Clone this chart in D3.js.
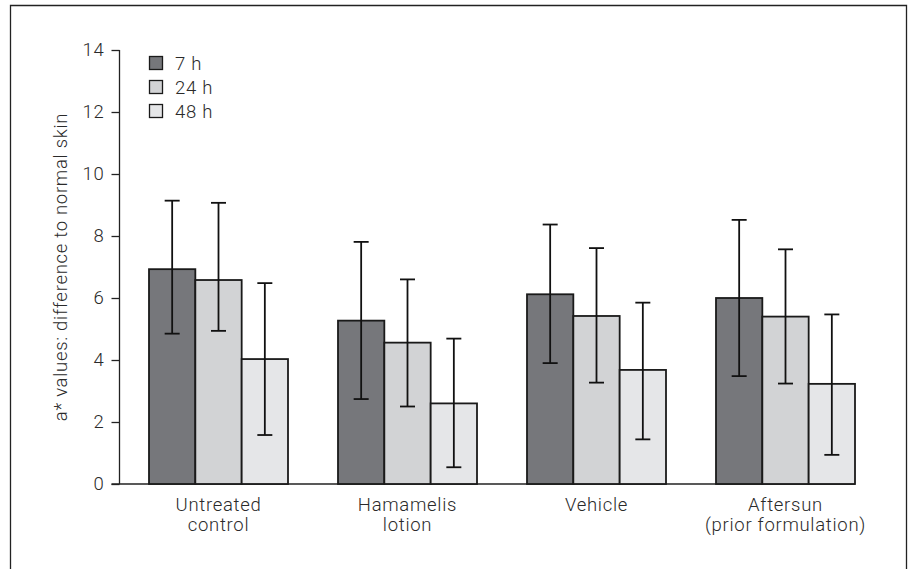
<!DOCTYPE html>
<html>
<head>
<meta charset="utf-8">
<script src="https://cdn.jsdelivr.net/npm/d3@7"></script>
<style>
  body { margin: 0; background: #fff; }
  svg { display: block; }
  text { font-weight: 300; letter-spacing: 0.7px; }
</style>
</head>
<body>
<div id="chart"></div>
<script>
// treatment groups along x, three time points per group
const groups = [["Untreated", "control"], ["Hamamelis", "lotion"], ["Vehicle"], ["Aftersun", "(prior formulation)"]];
const times = ["7 h", "24 h", "48 h"];
const colors = ["#76777b", "#d2d3d5", "#e5e6e8"];

// mean a* per group, one array per time point
const mean7 = [6.93, 5.27, 6.12, 6.0];
const mean24 = [6.58, 4.56, 5.42, 5.4];
const mean48 = [4.03, 2.6, 3.68, 3.23];
// error bar ends
const hi7 = [9.14, 7.81, 8.37, 8.52];
const lo7 = [4.85, 2.74, 3.9, 3.48];
const hi24 = [9.07, 6.6, 7.61, 7.57];
const lo24 = [4.94, 2.5, 3.27, 3.24];
const hi48 = [6.48, 4.69, 5.85, 5.47];
const lo48 = [1.58, 0.54, 1.44, 0.94];
const yTicks = [0, 2, 4, 6, 8, 10, 12, 14];

const means = [mean7, mean24, mean48];
const his = [hi7, hi24, hi48];
const los = [lo7, lo24, lo48];

const width = 912, height = 569;
const font = "Roboto, 'Liberation Sans', Arial, sans-serif";
const textColor = "#2a2a2a";
const fs = 18.5;

const svg = d3.select("#chart").append("svg")
    .attr("width", width)
    .attr("height", height)
    .attr("font-family", font);

// outer frame (no bottom edge visible)
svg.append("path")
    .attr("d", "M10.5,575V5.5H906.5V575")
    .attr("fill", "none")
    .attr("stroke", "#222")
    .attr("stroke-width", 1.3);

const axisX = 119.5;
const y = d3.scaleLinear().domain([0, 14]).range([484, 50]);
const x = d3.scaleBand()
    .domain(d3.range(groups.length))
    .range([124, 880])
    .paddingInner(50 / 189)
    .paddingOuter(25 / 189);
const xs = d3.scaleBand().domain(d3.range(times.length)).range([0, x.bandwidth()]);

// y axis
const yAxis = svg.append("g")
    .attr("transform", `translate(${axisX},0)`)
    .call(d3.axisLeft(y).tickValues(yTicks).tickSize(8).tickPadding(7));
yAxis.select(".domain").attr("d", `M0,${y(14)}V${y(0)}`).attr("stroke", "#222").attr("stroke-width", 1.3);
yAxis.selectAll(".tick line").attr("stroke", "#222").attr("stroke-width", 1.3);
yAxis.selectAll(".tick text")
    .attr("font-size", fs)
    .attr("font-family", font)
    .attr("fill", textColor);

svg.append("text")
    .attr("transform", `translate(67,${(y(14) + y(0)) / 2}) rotate(-90)`)
    .attr("text-anchor", "middle")
    .attr("font-size", fs)
    .attr("letter-spacing", "1px")
    .attr("fill", textColor)
    .text("a* values: difference to normal skin");

// x axis line
svg.append("line")
    .attr("x1", axisX - 8).attr("x2", x(groups.length - 1) + x.bandwidth())
    .attr("y1", y(0)).attr("y2", y(0))
    .attr("stroke", "#222")
    .attr("stroke-width", 1.3);

// bars
const g = svg.append("g").selectAll("g")
    .data(groups.map((_, i) => i))
    .join("g")
    .attr("transform", i => `translate(${x(i)},0)`);

g.selectAll("rect")
    .data(i => times.map((_, t) => ({ t, v: means[t][i] })))
    .join("rect")
    .attr("x", d => xs(d.t))
    .attr("y", d => y(d.v))
    .attr("width", xs.bandwidth())
    .attr("height", d => y(0) - y(d.v))
    .attr("fill", d => colors[d.t])
    .attr("stroke", "#1a1a1a")
    .attr("stroke-width", 1.8);

// error bars
const cap = 7.5;
const eb = g.selectAll("g.err")
    .data(i => times.map((_, t) => ({ t, hi: his[t][i], lo: los[t][i] })))
    .join("g")
    .attr("class", "err")
    .attr("stroke", "#111")
    .attr("stroke-width", 1.8)
    .attr("transform", d => `translate(${xs(d.t) + xs.bandwidth() / 2},0)`);
eb.append("line").attr("y1", d => y(d.hi)).attr("y2", d => y(d.lo));
eb.append("line").attr("x1", -cap).attr("x2", cap).attr("y1", d => y(d.hi)).attr("y2", d => y(d.hi));
eb.append("line").attr("x1", -cap).attr("x2", cap).attr("y1", d => y(d.lo)).attr("y2", d => y(d.lo));

// category labels
const lab = svg.append("g").selectAll("text")
    .data(groups)
    .join("text")
    .attr("text-anchor", "middle")
    .attr("font-size", fs)
    .attr("fill", textColor)
    .attr("x", (d, i) => x(i) + x.bandwidth() / 2)
    .attr("y", 510.5);
lab.selectAll("tspan")
    .data(d => d)
    .join("tspan")
    .attr("x", function () { return this.parentNode.getAttribute("x"); })
    .attr("dy", (d, i) => i ? 20 : 0)
    .text(d => d);

// legend
const leg = svg.append("g").selectAll("g")
    .data(times)
    .join("g")
    .attr("transform", (d, i) => `translate(149.5,${56.5 + i * 24})`);
leg.append("rect")
    .attr("width", 13).attr("height", 13)
    .attr("fill", (d, i) => colors[i])
    .attr("stroke", "#1a1a1a")
    .attr("stroke-width", 1.3);
leg.append("text")
    .attr("x", 25.5).attr("y", 13)
    .attr("font-size", fs)
    .attr("fill", textColor)
    .text(d => d);
</script>
</body>
</html>
